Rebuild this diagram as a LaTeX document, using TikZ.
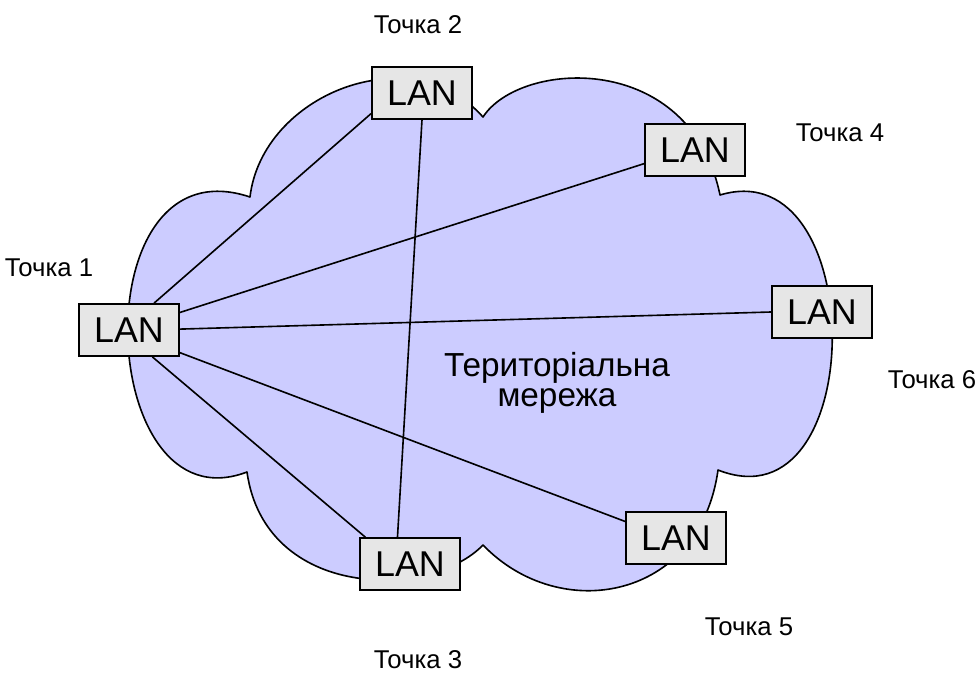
\documentclass[tikz,border=0pt]{standalone}
\usepackage{fontspec}
\setmainfont{Liberation Sans}
\usetikzlibrary{positioning}
\definecolor{cloudfill}{RGB}{204,204,255}
\definecolor{lanfill}{RGB}{230,230,230}
\begin{document}
\begin{tikzpicture}[x=0.025cm,y=-0.025cm,
  lan/.style={draw,line width=1.2pt,fill=lanfill,minimum width=2.5cm,minimum height=1.3cm,inner sep=0pt,font=\fontsize{25.5}{30}\selectfont},
  pt/.style={inner sep=0pt,font=\fontsize{18.3}{22}\selectfont},
  l/.style={line width=1.15pt}]
\useasboundingbox (0,0) rectangle (978,675);
% cloud
\draw[l,line join=round,fill=cloudfill] (250,197) .. controls (262,95) and (410,35) .. (483,117)
  .. controls (520,60) and (690,50) .. (720,195)
  .. controls (870,150) and (870,530) .. (718,470)
  .. controls (700,600) and (560,625) .. (483,545)
  .. controls (430,600) and (265,600) .. (247,472)
  .. controls (95,530) and (80,140) .. cycle;
\node[align=center,font=\fontsize{23.7}{21.5}\selectfont] (wan) at (557,383) {Територіальна\\мережа};
% LAN boxes
\node[lan] (l1) at (129,330) {LAN};
\node[lan] (l2) at (422,93) {LAN};
\node[lan] (l3) at (410,564) {LAN};
\node[lan] (l4) at (695,150) {LAN};
\node[lan] (l5) at (676,538) {LAN};
\node[lan] (l6) at (822,312) {LAN};
\node[pt] (t1) at (49,268) {Точка 1};
\node[pt] (t2) at (418,25) {Точка 2};
\node[pt] (t3) at (418,660) {Точка 3};
\node[pt] (t4) at (840,133) {Точка 4};
\node[pt] (t5) at (749,627) {Точка 5};
\node[pt] (t6) at (932,380) {Точка 6};
% links
\draw[l] (l1.47) -- (l2.202);
\draw[l] (l1.19) -- (l4.195);
\draw[l] (l1.1) -- (l6.west);
\draw[l] (l1.-24) -- (l5.162);
\draw[l] (l1.-49) -- (l3.149);
\draw[l] (l2.south) -- (l3.115);
\end{tikzpicture}
\end{document}
